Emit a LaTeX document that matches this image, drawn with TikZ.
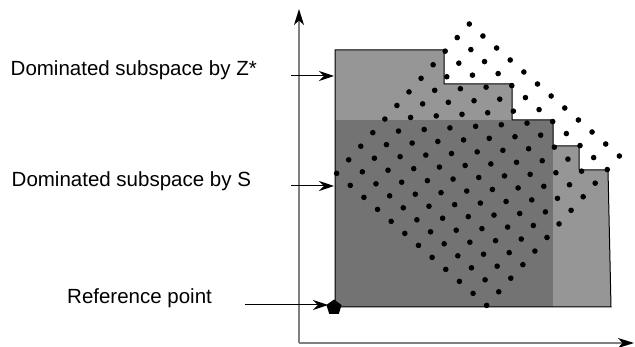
\documentclass[tikz,border=0pt]{standalone}
\usepackage{fontspec}
\setmainfont{Liberation Sans}
\usetikzlibrary{arrows.meta,shapes.geometric}
\definecolor{lightreg}{HTML}{969696}
\definecolor{darkreg}{HTML}{737373}
\definecolor{axisgray}{HTML}{808080}
\tikzset{
  lbl/.style={anchor=base west,inner sep=0pt,font=\fontsize{20.5}{24}\selectfont},
  ptr/.style={line width=1pt,-{Stealth[length=15pt,width=10pt,inset=5pt]}},
  axisline/.style={draw=axisgray,line width=1.5pt,-{Stealth[length=16pt,width=10pt,inset=4.5pt,color=black]}},
  dot/.style={fill=black},
}
\begin{document}
\begin{tikzpicture}[x=1pt,y=-1pt]
\useasboundingbox (0,0) rectangle (635,347);
% axes
\coordinate (O) at (299,343);
\coordinate (ytop) at (299,9);
\coordinate (xend) at (634,343);
\draw[axisline] (O) -- (ytop);
\draw[axisline] (O) -- (xend);
% dominated region by Z*
\fill[lightreg] (335,50) -- (444,50) -- (444,84) -- (512,84) -- (512,120) -- (553,120) -- (553,146) -- (579,146) -- (579,170) -- (608,170) -- (611,307) -- (335,307) -- cycle;
% dominated region by S
\fill[darkreg] (335,120) rectangle (553,307);
\draw[line width=1pt,line join=miter] (335,50) -- (444,50) -- (444,84) -- (512,84) -- (512,120) -- (553,120) -- (553,146) -- (579,146) -- (579,170) -- (608,170) -- (611,307) -- (335,307) -- cycle;
% dots
\foreach \i in {0,...,11}{
  \foreach \j in {0,...,11}{
    \fill[dot] ({469.3-12.06*\i+13.64*\j},{24+13.58*\i+12.0*\j}) circle (2.8);
  }
}
% reference point
\node[regular polygon,regular polygon sides=5,fill=black,minimum size=16pt,inner sep=0pt] (ref) at (334,307.5) {};
% labels
\node[lbl] (lz) at (10.5,75.7) {Dominated subspace by Z*};
\node[lbl] (ls) at (11.5,187) {Dominated subspace by S};
\node[lbl] (lr) at (67,304) {Reference point};
\coordinate (az0) at (291,76);
\coordinate (az1) at (334,76);
\coordinate (as0) at (291,186);
\coordinate (as1) at (334,186);
\coordinate (ar0) at (245,305);
\coordinate (ar1) at (328,305);
\draw[ptr] (az0) -- (az1);
\draw[ptr] (as0) -- (as1);
\draw[ptr] (ar0) -- (ar1);
\end{tikzpicture}
\end{document}
